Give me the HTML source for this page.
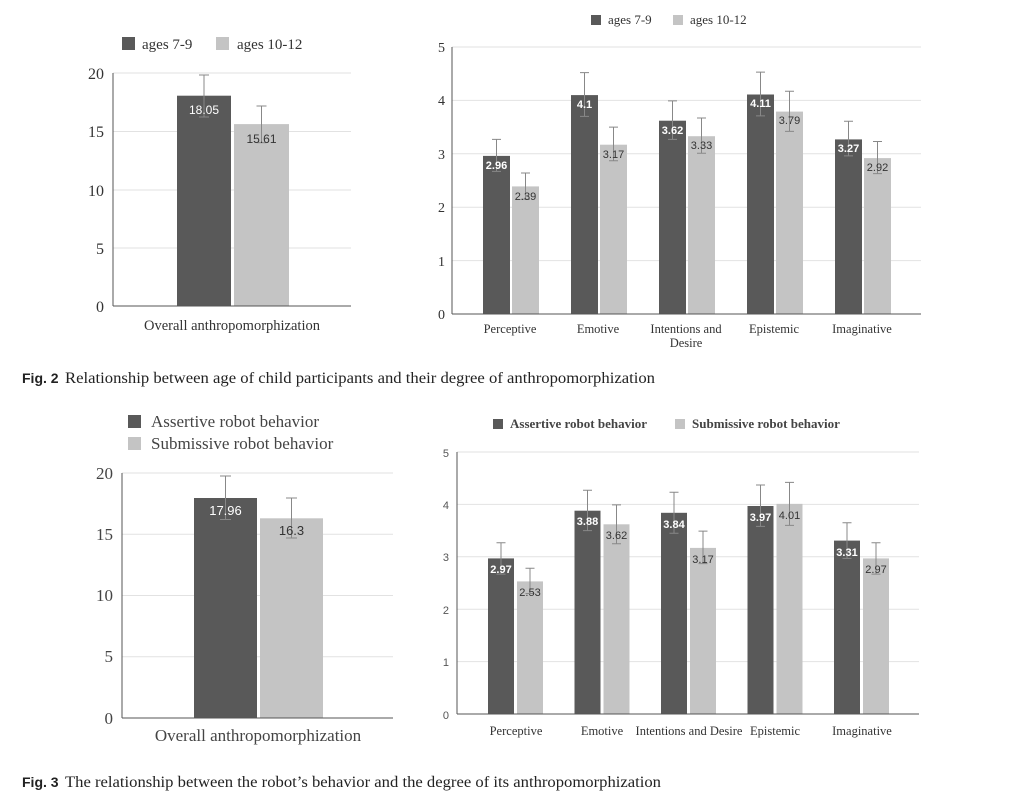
<!DOCTYPE html>
<html><head><meta charset="utf-8"><style>
html,body{margin:0;padding:0;background:#fff;}
svg{display:block;}
.s{font-family:"Liberation Serif",serif;}
.a{font-family:"Liberation Sans",sans-serif;}
</style></head><body>
<svg width="1024" height="804" viewBox="0 0 1024 804" xmlns="http://www.w3.org/2000/svg">
<rect width="1024" height="804" fill="#fff"/>
<!-- Chart 1 -->
<g>
<rect x="122" y="37" width="13" height="13" fill="#595959"/>
<text x="142" y="49" class="s" font-size="15" fill="#333">ages 7-9</text>
<rect x="216" y="37" width="13" height="13" fill="#c4c4c4"/>
<text x="237" y="49" class="s" font-size="15" fill="#333">ages 10-12</text>
<g stroke="#e2e2e2" stroke-width="1">
<line x1="113" y1="73" x2="351" y2="73"/><line x1="113" y1="131.5" x2="351" y2="131.5"/>
<line x1="113" y1="190" x2="351" y2="190"/><line x1="113" y1="248" x2="351" y2="248"/>
</g>
<g class="s" font-size="16" fill="#333" text-anchor="end">
<text x="104" y="79">20</text><text x="104" y="137">15</text><text x="104" y="196">10</text><text x="104" y="254">5</text><text x="104" y="312">0</text>
</g>
<rect x="177" y="95.7" width="54" height="210.3" fill="#595959"/>
<rect x="234" y="124.1" width="55" height="181.9" fill="#c4c4c4"/>
<g stroke="#888" stroke-width="1"><line x1="204" y1="75" x2="204" y2="117"/><line x1="199" y1="75" x2="209" y2="75"/><line x1="199" y1="117" x2="209" y2="117"/>
<line x1="261.5" y1="106" x2="261.5" y2="142.7"/><line x1="256.5" y1="106" x2="266.5" y2="106"/><line x1="256.5" y1="142.7" x2="266.5" y2="142.7"/></g>
<text x="204" y="114" class="a" font-size="12" fill="#fff" text-anchor="middle">18.05</text>
<text x="261.5" y="143" class="a" font-size="12" fill="#333" text-anchor="middle">15.61</text>
<line x1="113" y1="73" x2="113" y2="306" stroke="#555"/><line x1="113" y1="306" x2="351" y2="306" stroke="#555"/>
<text x="232" y="330" class="s" font-size="14.5" fill="#333" text-anchor="middle">Overall anthropomorphization</text>
</g>
<!-- Chart 2 -->
<g>
<rect x="591" y="15" width="10" height="10" fill="#595959"/>
<text x="608" y="24" class="s" font-size="13" fill="#333">ages 7-9</text>
<rect x="673" y="15" width="10" height="10" fill="#c4c4c4"/>
<text x="690" y="24" class="s" font-size="13" fill="#333">ages 10-12</text>
<g stroke="#e2e2e2"><line x1="452" y1="47" x2="921" y2="47"/><line x1="452" y1="100.4" x2="921" y2="100.4"/><line x1="452" y1="153.8" x2="921" y2="153.8"/><line x1="452" y1="207.2" x2="921" y2="207.2"/><line x1="452" y1="260.6" x2="921" y2="260.6"/></g>
<g class="s" font-size="14" fill="#333" text-anchor="end"><text x="445" y="52">5</text><text x="445" y="105">4</text><text x="445" y="159">3</text><text x="445" y="212">2</text><text x="445" y="266">1</text><text x="445" y="319">0</text></g>
<g fill="#595959"><rect x="483" y="155.9" width="27" height="158.1"/><rect x="571" y="95.1" width="27" height="218.9"/><rect x="659" y="120.7" width="27" height="193.3"/><rect x="747" y="94.5" width="27" height="219.5"/><rect x="835" y="139.4" width="27" height="174.6"/></g>
<g fill="#c4c4c4"><rect x="512" y="186.4" width="27" height="127.6"/><rect x="600" y="144.7" width="27" height="169.3"/><rect x="688" y="136.2" width="27" height="177.8"/><rect x="776" y="111.6" width="27" height="202.4"/><rect x="864" y="158.1" width="27" height="155.9"/></g>
<g stroke="#888">
<path d="M496.5 139.4V171.4M492 139.4h9M492 171.4h9"/><path d="M584.5 72.6V116.4M580 72.6h9M580 116.4h9"/><path d="M672.5 100.9V139.4M668 100.9h9M668 139.4h9"/><path d="M760.5 72.1V115.9M756 72.1h9M756 115.9h9"/><path d="M848.5 121.2V155.9M844 121.2h9M844 155.9h9"/>
<path d="M525.5 173V199.2M521 173h9M521 199.2h9"/><path d="M613.5 127.1V160.7M609 127.1h9M609 160.7h9"/><path d="M701.5 118V153.3M697 118h9M697 153.3h9"/><path d="M789.5 91.3V131.4M785 91.3h9M785 131.4h9"/><path d="M877.5 141.5V173.6M873 141.5h9M873 173.6h9"/>
</g>
<g class="a" font-size="11" font-weight="bold" text-anchor="middle" fill="#fff"><text x="496.5" y="169">2.96</text><text x="584.5" y="108">4.1</text><text x="672.5" y="134">3.62</text><text x="760.5" y="107">4.11</text><text x="848.5" y="152">3.27</text></g>
<g class="a" font-size="11" text-anchor="middle" fill="#333"><text x="525.5" y="200">2.39</text><text x="613.5" y="158">3.17</text><text x="701.5" y="149">3.33</text><text x="789.5" y="124">3.79</text><text x="877.5" y="171">2.92</text></g>
<line x1="452" y1="47" x2="452" y2="314" stroke="#555"/><line x1="452" y1="314" x2="921" y2="314" stroke="#555"/>
<g class="s" font-size="12.5" fill="#333" text-anchor="middle"><text x="510" y="333">Perceptive</text><text x="598" y="333">Emotive</text><text x="686" y="333">Intentions and</text><text x="686" y="347">Desire</text><text x="774" y="333">Epistemic</text><text x="862" y="333">Imaginative</text></g>
</g>
<text x="22" y="383" class="a" font-weight="bold" font-size="14" fill="#222">Fig. 2</text>
<text x="65" y="383" class="s" font-size="16" fill="#222" textLength="590" lengthAdjust="spacingAndGlyphs">Relationship between age of child participants and their degree of anthropomorphization</text>
<!-- Chart 3 -->
<g>
<rect x="128" y="415" width="13" height="13" fill="#595959"/>
<text x="151" y="427" class="s" font-size="17" fill="#444">Assertive robot behavior</text>
<rect x="128" y="437" width="13" height="13" fill="#c4c4c4"/>
<text x="151" y="449" class="s" font-size="17" fill="#444">Submissive robot behavior</text>
<g stroke="#e2e2e2"><line x1="122" y1="473" x2="393" y2="473"/><line x1="122" y1="534.3" x2="393" y2="534.3"/><line x1="122" y1="595.5" x2="393" y2="595.5"/><line x1="122" y1="656.8" x2="393" y2="656.8"/></g>
<g class="s" font-size="17" fill="#444" text-anchor="end"><text x="113" y="479">20</text><text x="113" y="540">15</text><text x="113" y="601">10</text><text x="113" y="662">5</text><text x="113" y="724">0</text></g>
<rect x="194" y="498" width="63" height="220" fill="#595959"/>
<rect x="260" y="518.3" width="63" height="199.7" fill="#c4c4c4"/>
<g stroke="#888"><path d="M225.5 476V519.5M220 476h11M220 519.5h11"/><path d="M291.5 498V538M286 498h11M286 538h11"/></g>
<text x="225.5" y="515" class="a" font-size="13" fill="#fff" text-anchor="middle">17.96</text>
<text x="291.5" y="535" class="a" font-size="13" fill="#333" text-anchor="middle">16.3</text>
<line x1="122" y1="473" x2="122" y2="718" stroke="#555"/><line x1="122" y1="718" x2="393" y2="718" stroke="#555"/>
<text x="258" y="741" class="s" font-size="17" fill="#444" text-anchor="middle">Overall anthropomorphization</text>
</g>
<!-- Chart 4 -->
<g>
<rect x="493" y="419" width="10" height="10" fill="#595959"/>
<text x="510" y="428" class="s" font-size="13" font-weight="bold" fill="#444">Assertive robot behavior</text>
<rect x="675" y="419" width="10" height="10" fill="#c4c4c4"/>
<text x="692" y="428" class="s" font-size="13" font-weight="bold" fill="#444">Submissive robot behavior</text>
<g stroke="#e2e2e2"><line x1="457" y1="452" x2="919" y2="452"/><line x1="457" y1="504.4" x2="919" y2="504.4"/><line x1="457" y1="556.8" x2="919" y2="556.8"/><line x1="457" y1="609.2" x2="919" y2="609.2"/><line x1="457" y1="661.6" x2="919" y2="661.6"/></g>
<g class="a" font-size="11" fill="#555" text-anchor="end"><text x="449" y="457">5</text><text x="449" y="509">4</text><text x="449" y="561">3</text><text x="449" y="614">2</text><text x="449" y="666">1</text><text x="449" y="719">0</text></g>
<g fill="#595959"><rect x="488" y="558.4" width="26" height="155.6"/><rect x="574.5" y="510.7" width="26" height="203.3"/><rect x="661" y="512.8" width="26" height="201.2"/><rect x="747.5" y="506" width="26" height="208"/><rect x="834" y="540.6" width="26" height="173.4"/></g>
<g fill="#c4c4c4"><rect x="517" y="581.4" width="26" height="132.6"/><rect x="603.5" y="524.3" width="26" height="189.7"/><rect x="690" y="547.9" width="26" height="166.1"/><rect x="776.5" y="503.9" width="26" height="210.1"/><rect x="863" y="558.4" width="26" height="155.6"/></g>
<g stroke="#888">
<path d="M501 542.7V574.1M496.5 542.7h9M496.5 574.1h9"/><path d="M587.5 490.3V530.6M583 490.3h9M583 530.6h9"/><path d="M674 492.3V533.2M669.5 492.3h9M669.5 533.2h9"/><path d="M760.5 485V526.4M756 485h9M756 526.4h9"/><path d="M847 522.7V558.4M842.5 522.7h9M842.5 558.4h9"/>
<path d="M530 568.3V593.5M525.5 568.3h9M525.5 593.5h9"/><path d="M616.5 504.9V543.7M612 504.9h9M612 543.7h9"/><path d="M703 531.1V563.6M698.5 531.1h9M698.5 563.6h9"/><path d="M789.5 482.4V525.4M785 482.4h9M785 525.4h9"/><path d="M876 542.7V574.1M871.5 542.7h9M871.5 574.1h9"/>
</g>
<g class="a" font-size="11" font-weight="bold" text-anchor="middle" fill="#fff"><text x="501" y="573">2.97</text><text x="587.5" y="525">3.88</text><text x="674" y="528">3.84</text><text x="760.5" y="521">3.97</text><text x="847" y="556">3.31</text></g>
<g class="a" font-size="11" text-anchor="middle" fill="#333"><text x="530" y="596">2.53</text><text x="616.5" y="539">3.62</text><text x="703" y="563">3.17</text><text x="789.5" y="519">4.01</text><text x="876" y="573">2.97</text></g>
<line x1="457" y1="452" x2="457" y2="714" stroke="#555"/><line x1="457" y1="714" x2="919" y2="714" stroke="#555"/>
<g class="s" font-size="12.5" fill="#333" text-anchor="middle"><text x="516" y="735">Perceptive</text><text x="602" y="735">Emotive</text><text x="689" y="735">Intentions and Desire</text><text x="775" y="735">Epistemic</text><text x="862" y="735">Imaginative</text></g>
</g>
<text x="22" y="787" class="a" font-weight="bold" font-size="14" fill="#222">Fig. 3</text>
<text x="65" y="787" class="s" font-size="16" fill="#222" textLength="596" lengthAdjust="spacingAndGlyphs">The relationship between the robot’s behavior and the degree of its anthropomorphization</text>
</svg>
</body></html>
